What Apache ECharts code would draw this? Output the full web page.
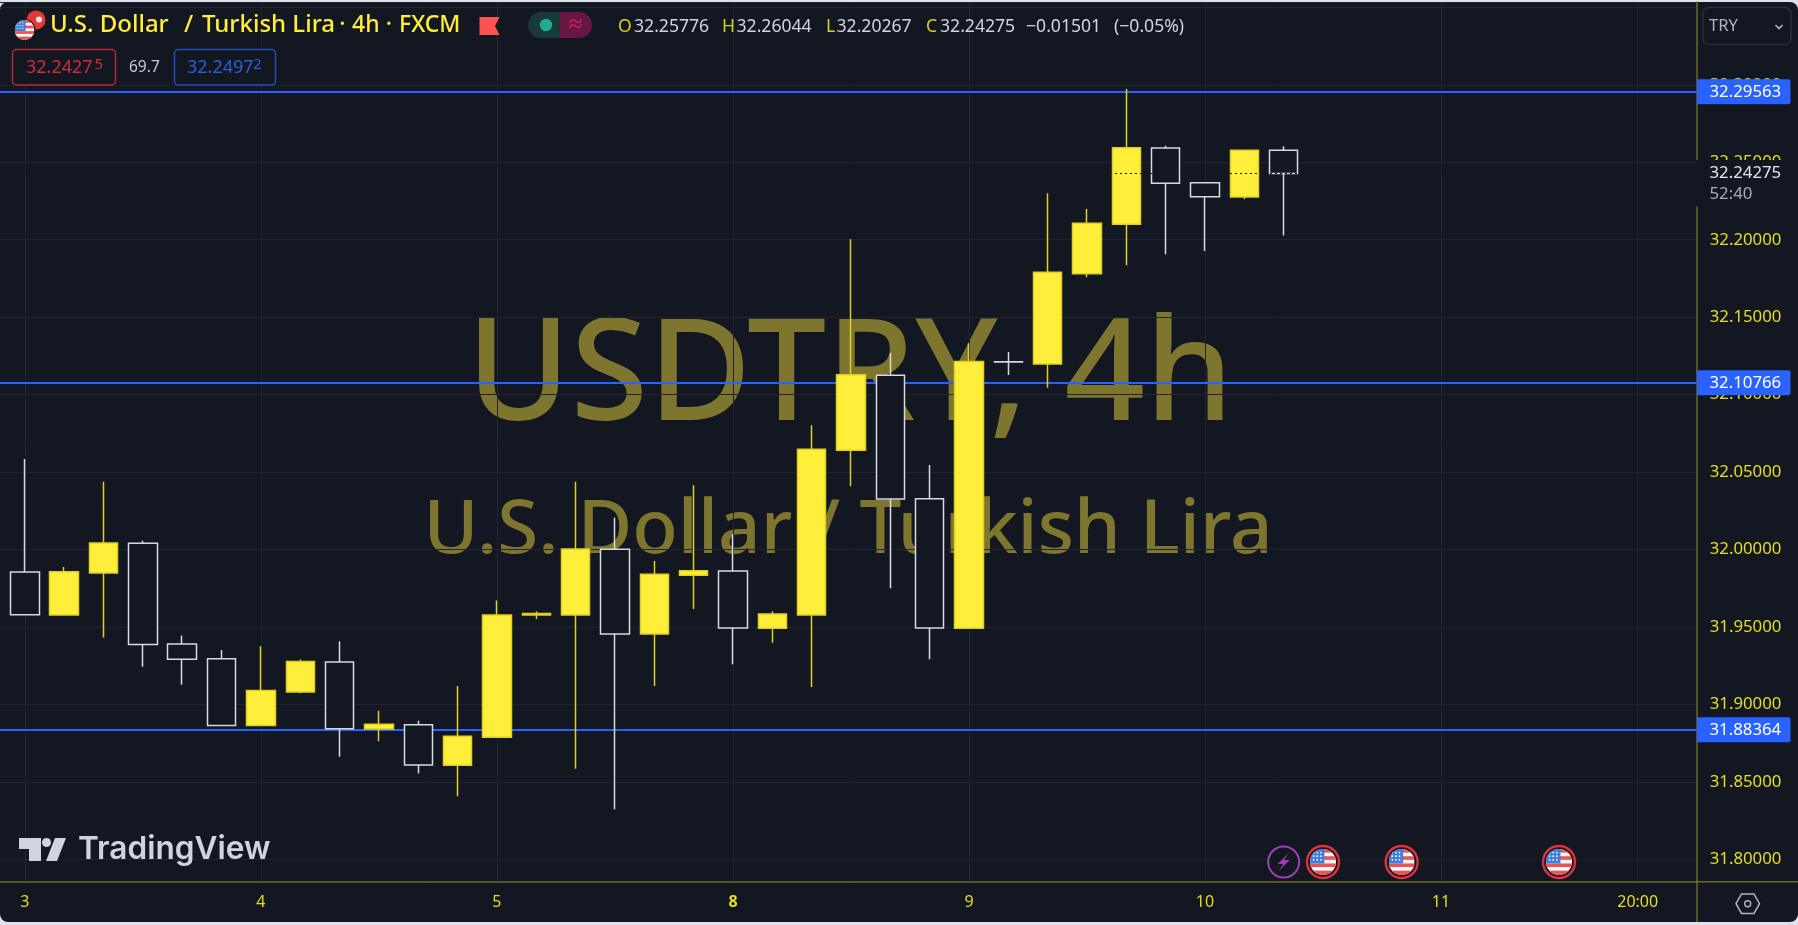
<!DOCTYPE html>
<html><head><meta charset="utf-8"><title>USDTRY 4h</title>
<style>
html,body{margin:0;padding:0;width:1798px;height:925px;background:#dfe2ea;overflow:hidden}
#bg{position:absolute;left:0;top:2px;width:1798px;height:920px;background:#131722;border-radius:8px}
#c{position:absolute;left:0;top:0;width:1798px;height:925px}
</style>
<script src="https://cdn.jsdelivr.net/npm/echarts@6/dist/echarts.min.js"></script>
</head><body><div id="bg"></div><div id="c"></div>
<script>
// candle values, left to right
const opens  = [31.9855,31.9577,31.9848,32.0040,31.9390,31.9295,31.8863,31.9080,31.9274,31.8841,31.8869,31.8607,31.8788,31.9577,31.9577,32.0002,31.9455,31.9834,31.9861,31.9491,31.9577,32.0641,32.1125,32.0328,31.9491,32.1212,32.1198,32.1781,32.2100,32.2592,32.2368,32.2276,32.25776];
const closes = [31.9579,31.9857,32.0042,31.9386,31.9291,31.8863,31.9089,31.9276,31.8843,31.8872,31.8609,31.8794,31.9577,31.9586,32.0003,31.9455,31.9840,31.9863,31.9493,31.9584,32.0647,32.1129,32.0326,31.9493,32.1213,32.1211,32.1790,32.2106,32.2594,32.2364,32.2278,32.2578,32.24275];
const lows   = [31.9579,31.9577,31.9431,31.9243,31.9127,31.8863,31.8863,31.9072,31.8662,31.8762,31.8553,31.8407,31.8788,31.9551,31.8585,31.8323,31.9119,31.9616,31.9259,31.9398,31.9112,32.0408,31.9750,31.9291,31.9491,32.1127,32.1045,32.1758,32.1835,32.1906,32.1927,32.2261,32.20267];
const highs  = [32.0584,31.9887,32.0438,32.0057,31.9444,31.9351,31.9375,31.9289,31.9408,31.8958,31.8895,31.9119,31.9670,31.9601,32.0438,32.0206,31.9926,32.0415,32.0096,31.9601,32.0802,32.2003,32.1267,32.0546,32.1331,32.1275,32.2300,32.2199,32.2973,32.2607,32.2368,32.2579,32.26044];
// time axis tick labels: slot index and text
const timeSlots  = [0,6,12,18,24,30,36,41];
const timeLabels = ['3','4','5','8','9','10','11','20:00'];
const slotMin = -0.633, slotMax = 42.5;
const levelPrices = [32.29563,32.10766,31.88364];
const currentPrice = 32.24275;
const countdown = '52:40';
const priceMin = 31.7855, priceMax = 32.3535;
const lightningSlots = [32];
const flagSlots = [33,35,39];

const FONT='"Noto Sans"';
const BG='#131722', YEL='#FFEE3A', WICK='#E0D020', WHITE='#d6d9e0', BLUE='#2962ff', AXC='#e6de22', LINE='#6e6822', GRIDC='#1f2430';
const candleData=opens.map((o,i)=>[i,o,closes[i],lows[i],highs[i]]);

function svg(s){return 'data:image/svg+xml;charset=utf-8,'+encodeURIComponent(s);}
const usFlag=svg('<svg xmlns="http://www.w3.org/2000/svg" viewBox="0 0 36 36"><defs><clipPath id="a"><circle cx="18" cy="18" r="18"/></clipPath></defs><g clip-path="url(#a)"><rect width="36" height="36" fill="#f7f8fb"/><rect y="0" width="36" height="5" fill="#ef5350"/><rect y="10" width="36" height="5" fill="#ef5350"/><rect y="20" width="36" height="5" fill="#ef5350"/><rect y="30" width="36" height="6" fill="#ef5350"/><rect width="20" height="20" fill="#3f7fe0"/><g fill="#fff"><circle cx="5" cy="5" r="1.2"/><circle cx="10" cy="5" r="1.2"/><circle cx="15" cy="5" r="1.2"/><circle cx="5" cy="10" r="1.2"/><circle cx="10" cy="10" r="1.2"/><circle cx="15" cy="10" r="1.2"/><circle cx="5" cy="15" r="1.2"/><circle cx="10" cy="15" r="1.2"/><circle cx="15" cy="15" r="1.2"/></g></g></svg>');

const chart=echarts.init(document.getElementById('c'),null,{renderer:'canvas'});
chart.setOption({
  animation:false,
  backgroundColor:'transparent',
  grid:{left:0,right:101.3,top:2,bottom:43.3},
  xAxis:{type:'value',min:slotMin,max:slotMax,
    axisLine:{show:true,onZero:false,lineStyle:{color:LINE,width:1.5}},
    axisTick:{show:false},
    axisLabel:{customValues:timeSlots,margin:13,color:AXC,fontFamily:FONT,fontSize:16,
      formatter:v=>{const t=timeLabels[timeSlots.indexOf(v)];return t==='8'?'{b|8}':(t||'');},
      rich:{b:{fontWeight:'bold',color:AXC,fontFamily:FONT,fontSize:16}}},
    splitLine:{show:false}
  },
  yAxis:{type:'value',position:'right',min:priceMin,max:priceMax,scale:true,splitNumber:11,minInterval:0.05,maxInterval:0.05,
    axisLine:{show:true,onZero:false,lineStyle:{color:LINE,width:1.5}},axisTick:{show:false},
    axisLabel:{margin:13,color:AXC,fontFamily:FONT,fontSize:16.8,showMinLabel:false,showMaxLabel:false,
      formatter:v=>(Math.abs(v/0.05-Math.round(v/0.05))<1e-6&&v<32.34)?v.toFixed(5):''},
    splitLine:{show:true,lineStyle:{color:GRIDC,width:1}}
  },
  series:[
    {type:'line',name:'timeGrid',data:[],z:0,silent:true,
      markLine:{z:0,silent:true,symbol:'none',animation:false,precision:5,label:{show:false},lineStyle:{color:GRIDC,width:1,type:'solid'},
        data:timeSlots.map(s=>({xAxis:s}))}},
    {type:'line',name:'levels',data:[],z:1,silent:true,
      markLine:{z:1,silent:true,symbol:'none',animation:false,precision:5,label:{show:false},lineStyle:{color:BLUE,width:2.2,type:'solid'},
        data:levelPrices.map(p=>({yAxis:p}))}},
    {type:'candlestick',name:'USDTRY',data:candleData,encode:{x:0,y:[1,2,3,4]},barWidth:29,z:2,silent:true,
      itemStyle:{color:YEL,color0:BG,borderColor:WICK,borderColor0:WHITE,borderWidth:1.5}},
    {type:'line',name:'last',data:[],z:3,silent:true,
      markLine:{z:5,silent:true,symbol:'none',animation:false,precision:5,label:{show:false},lineStyle:{color:BG,width:1,type:[2,3]},
        data:[{yAxis:currentPrice}]}}
  ]
});

const py=v=>chart.convertToPixel({yAxisIndex:0},v);
const px=i=>chart.convertToPixel({xAxisIndex:0},i);
const g=[];
const T=(x,y,text,o)=>g.push(Object.assign({type:'text',x,y,z:o&&o.z!==undefined?o.z:60,silent:true,
  style:Object.assign({text,fontFamily:FONT,fontSize:17,fill:'#d1d4dc',verticalAlign:'middle',align:'left'},o&&o.style)},{}));
const R=(x,y,w,h,o)=>g.push({type:'rect',z:o.z!==undefined?o.z:55,silent:true,shape:{x,y,width:w,height:h,r:o.r||0},style:o.style});

// watermark, behind everything
g.push({type:'text',x:850,y:380,z:-1,silent:true,style:{text:'USDTRY, 4h',fontFamily:FONT,fontSize:141,fontWeight:500,fill:'#7e762e',align:'center',verticalAlign:'middle'}});
g.push({type:'text',x:848,y:532,z:-1,silent:true,style:{text:'U.S. Dollar / Turkish Lira',fontFamily:FONT,fontSize:74.5,fontWeight:500,fill:'#7e762e',align:'center',verticalAlign:'middle'}});

// right-scale extras
g.push({type:'line',z:50,silent:true,shape:{x1:1697,y1:880,x2:1697,y2:922},style:{stroke:LINE,lineWidth:1.5}});
g.push({type:'line',z:50,silent:true,shape:{x1:1697,y1:881.7,x2:1798,y2:881.7},style:{stroke:LINE,lineWidth:1.5}});
// TRY selector
R(1703,7.5,88,37,{r:6,style:{fill:BG,stroke:'#2a2e39',lineWidth:1.5}});
T(1709,26,'TRY',{style:{fontSize:16.5,fill:'#b2b5be'}});
g.push({type:'polyline',z:60,silent:true,shape:{points:[[1775.5,25],[1779,28.5],[1782.5,25]]},style:{stroke:'#b2b5be',lineWidth:1.6,fill:'none'}});
// level tags
levelPrices.forEach(p=>{const y=py(p);
  R(1697,y-12.5,93.5,25,{r:[0,2,2,0],style:{fill:BLUE}});
  T(1709.5,y+0.5,p.toFixed(5),{style:{fontSize:16.8,fill:'#fff'}});
});
// current price tag
const cy=py(currentPrice);
R(1696,cy-13.5,102,46.5,{style:{fill:BG}});
T(1709.5,cy,currentPrice.toFixed(5),{style:{fontSize:16.8,fill:'#e0e3eb'}});
T(1709.5,cy+21,countdown,{style:{fontSize:16.8,fill:'#a8abb4'}});
// settings hexagon
g.push({type:'polygon',z:60,silent:true,shape:{points:[[1736,903.7],[1741.5,894],[1754,894],[1759.5,903.7],[1754,913.4],[1741.5,913.4]]},style:{stroke:'#b2b5be',fill:'none',lineWidth:1.5}});
g.push({type:'circle',z:60,silent:true,shape:{cx:1747.7,cy:903.7,r:3},style:{stroke:'#b2b5be',fill:'none',lineWidth:1.4}});

// header
g.push({type:'circle',z:60,silent:true,shape:{cx:36,cy:20,r:9.5},style:{fill:'#e53935'}});
g.push({type:'circle',z:61,silent:true,shape:{cx:39,cy:19.5,r:3},style:{fill:'#fbe3e3'}});
g.push({type:'circle',z:61,silent:true,shape:{cx:24.5,cy:30,r:11},style:{fill:BG}});
g.push({type:'image',z:62,silent:true,style:{image:usFlag,x:14.5,y:20,width:20,height:20}});
const titleStyle={fontSize:23,fontWeight:500,fill:'#ffee3a'};
const titleWide=Object.assign({},titleStyle,{fontSize:24});
T(50,25.5,'U.S. Dollar',{style:titleWide});
T(184,25.5,'/',{style:titleWide});
T(202,25.5,'Turkish Lira',{style:titleWide});
T(342.5,25.5,'·',{style:Object.assign({},titleStyle,{align:'center'})});
T(352,25.5,'4h',{style:titleStyle});
T(389,25.5,'·',{style:Object.assign({},titleStyle,{align:'center'})});
T(399,25.5,'FXCM',{style:titleStyle});
g.push({type:'polygon',z:60,silent:true,shape:{points:[[479.5,17],[499.5,17],[495,26],[499.5,35],[479.5,35]]},style:{fill:'#ff5252'}});
R(528,12,44,26,{r:[13,0,0,13],style:{fill:'#1a3a3a'}});
R(560,12,32,26,{r:[0,13,13,0],style:{fill:'#681642'}});
g.push({type:'circle',z:60,silent:true,shape:{cx:546,cy:25,r:6.2},style:{fill:'#22ab94'}});
T(575.5,25,'≈',{style:{fontSize:25,fill:'#e91e63',align:'center'}});
const ohlcY=26.7;
[[618,'O',1],[634,'32.25776',0],[722,'H',1],[736.5,'32.26044',0],[826,'L',1],[836.5,'32.20267',0],[926,'C',1],[940,'32.24275',0],[1026,'−0.01501',0],[1114,'(−0.05%)',0]]
 .forEach(a=>T(a[0],ohlcY,a[1],{style:{fontSize:17.6,fill:a[2]?'#d8cf20':'#d1d4dc'}}));
// value chips
R(12.5,49.5,103,35.5,{r:4,style:{fill:BG,stroke:'#b22833',lineWidth:1.5}});
T(26,68,'32.2427',{style:{fontSize:18,fill:'#c9303c'}});
T(94.5,65,'5',{style:{fontSize:15,fill:'#c9303c'}});
T(129,68,'69.7',{style:{fontSize:15.5,fill:'#c5c8d0'}});
R(174.5,49.5,101,35.5,{r:4,style:{fill:BG,stroke:'#1f4fb8',lineWidth:1.5}});
T(187,68,'32.2497',{style:{fontSize:18,fill:'#2a5fd6'}});
T(253,65,'2',{style:{fontSize:15,fill:'#2a5fd6'}});

// TradingView logo
g.push({type:'polygon',z:40,silent:true,shape:{points:[[19,838],[41,838],[41,861],[29,861],[29,849],[19,849]]},style:{fill:'#d1d4dc'}});
g.push({type:'polygon',z:40,silent:true,shape:{points:[[66,838],[57,861],[46,861],[55,838]]},style:{fill:'#d1d4dc'}});
g.push({type:'circle',z:40,silent:true,shape:{cx:46.5,cy:842.5,r:4.5},style:{fill:'#d1d4dc'}});
T(78,849.5,'TradingView',{z:40,style:{fontFamily:'Inter',fontSize:31.6,fontWeight:600,fill:'#d1d4dc'}});

// event markers
const ey=862;
lightningSlots.forEach(s=>{const x=px(s);
  g.push({type:'circle',z:60,silent:true,shape:{cx:x,cy:ey,r:15.5},style:{fill:BG,stroke:'#9c3fb5',lineWidth:2}});
  g.push({type:'polygon',z:61,silent:true,shape:{points:[[x+5,ey-9],[x-6,ey+2],[x-0.5,ey+2],[x-5,ey+9],[x+6,ey-2],[x+0.5,ey-2]]},style:{fill:'#9c3fb5'}});
});
flagSlots.forEach(s=>{const x=px(s);
  g.push({type:'circle',z:60,silent:true,shape:{cx:x,cy:ey,r:16},style:{fill:BG,stroke:'#e0303f',lineWidth:2.4}});
  g.push({type:'image',z:61,silent:true,style:{image:usFlag,x:x-13,y:ey-13,width:26,height:26}});
});
chart.setOption({graphic:g});
</script></body></html>
